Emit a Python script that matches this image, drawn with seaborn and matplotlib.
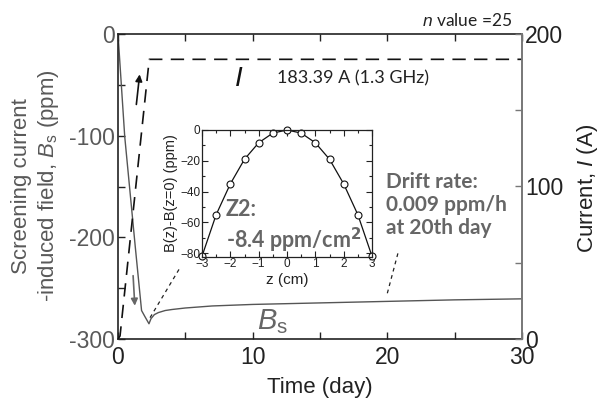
import numpy as np
import pandas as pd
import matplotlib
matplotlib.use("Agg")
import matplotlib.pyplot as plt
from matplotlib.ticker import MultipleLocator, FixedLocator
import seaborn as sns

# ---------------- data ----------------
bs_day = [0, 0.5, 1.28, 1.75, 2.0, 2.3, 2.45, 2.7, 3.0, 3.5, 4, 5, 7, 10, 15, 20, 25, 30]
bs_ppm = [0, -101, -209, -272, -278, -285, -280, -276, -274, -272, -271, -269.5, -267.5, -266, -264.5, -263, -261.5, -260.5]

cur_day = [0, 0.15, 2.32, 30]
cur_amp = [0, 2, 183.39, 183.39]

z_cm = [-3, -2.5, -2, -1.5, -1, -0.5, 0, 0.5, 1, 1.5, 2, 2.5, 3]
dB_ppm = [-82, -55, -35, -19, -8.3, -2, 0, -2, -8.3, -19, -35, -55, -82]

x_ticks = [0, 5, 10, 15, 20, 25, 30]
x_ticklabels = ["0", "", "10", "", "20", "", "30"]
yl_ticks = [-300, -250, -200, -150, -100, -50, 0]
yl_ticklabels = ["-300", "", "-200", "", "-100", "", "0"]
yr_ticks = [0, 50, 100, 150, 200]
yr_ticklabels = ["0", "", "100", "", "200"]

df_bs = pd.DataFrame({"day": bs_day, "ppm": bs_ppm})
df_cur = pd.DataFrame({"day": cur_day, "amp": cur_amp})
df_z = pd.DataFrame({"z": z_cm, "dB": dB_ppm})

# ---------------- style ----------------
sns.set_style("white")
plt.rcParams["font.family"] = ["Liberation Sans", "DejaVu Sans"]
plt.rcParams["mathtext.fontset"] = "custom"
plt.rcParams["mathtext.rm"] = "Liberation Sans"
plt.rcParams["mathtext.it"] = "Liberation Sans:italic"

GRAY = "#595959"
W, H = 607, 398
fig = plt.figure(figsize=(W / 100, H / 100), dpi=100)

def fx(px):
    return px / W

def fy(py):
    return 1 - py / H

ax = fig.add_axes([fx(118), fy(339), fx(522) - fx(118), fy(34) - fy(339)])
ax2 = ax.twinx()

# current (dashed, right axis)
sns.lineplot(data=df_cur, x="day", y="amp", ax=ax2, color="#111111", lw=1.2,
             linestyle=(0, (8, 5)), estimator=None, sort=False)
# screening field (solid, left axis)
sns.lineplot(data=df_bs, x="day", y="ppm", ax=ax, color="#555555", lw=1.0,
             estimator=None, sort=False)

ax.set_xlim(0, 30)
ax.set_ylim(-300, 0)
ax2.set_ylim(0, 200)

ax.set_xticks(x_ticks)
ax.set_xticklabels(x_ticklabels)
ax.set_yticks(yl_ticks)
ax.set_yticklabels(yl_ticklabels)
ax2.set_yticks(yr_ticks)
ax2.set_yticklabels(yr_ticklabels)

ax.tick_params(axis="x", direction="in", length=5, width=1, top=True, bottom=True,
               labelsize=16.5, pad=5, colors="#222222")
ax.tick_params(axis="y", direction="in", length=5, width=1, left=True,
               labelsize=16.5, pad=2, colors="#222222", labelcolor=GRAY)
ax2.tick_params(axis="y", direction="in", length=5, width=1, right=True,
                labelsize=16.5, pad=2, colors="#777777", labelcolor="#222222")

for s in ["left", "top", "bottom"]:
    ax.spines[s].set_color("#222222")
    ax.spines[s].set_linewidth(1.2)
for s in ["left", "top", "bottom"]:
    ax2.spines[s].set_visible(False)
ax2.spines["right"].set_color("#777777")
ax2.spines["right"].set_linewidth(1.4)
ax.spines["right"].set_visible(False)

ax.set_xlabel("")
ax.set_ylabel("")
ax2.set_ylabel("")
fig.text(fx(320), fy(387), "Time (day)", ha="center", va="center", fontsize=16,
         color="#222222")
fig.text(fx(22), fy(186), "Screening current", rotation=90, ha="center", va="center",
         fontsize=16, color=GRAY)
fig.text(fx(49), fy(186), "-induced field, $\\mathit{B}_\\mathrm{s}$ (ppm)", rotation=90,
         ha="center", va="center", fontsize=16, color=GRAY)
fig.text(fx(588), fy(188), "Current, $\\mathit{I}$ (A)", rotation=90, ha="center",
         va="center", fontsize=16, color="#222222")

# arrows
ax.annotate("", xy=(1.63, -37), xytext=(1.34, -72),
            arrowprops=dict(arrowstyle="-|>", color="#111111", lw=1.2, mutation_scale=10))
ax.annotate("", xy=(1.26, -270), xytext=(1.11, -235),
            arrowprops=dict(arrowstyle="-|>", color="#666666", lw=1.2, mutation_scale=10))

# pointer dashed lines
ax.plot([2.38, 4.6], [-279, -230], color="#222222", lw=0.9, linestyle=(0, (3, 3)))
ax.plot([20.0, 20.8], [-255, -215], color="#222222", lw=0.9, linestyle=(0, (3, 3)))

# annotations
CAL = ["Lato", "DejaVu Sans"]
fig.text(fx(512), fy(20), "$\\mathit{n}$ value =25", ha="right", va="center",
         fontsize=12.5, color="#222222", family=CAL)
fig.text(fx(239), fy(79), "$\\mathit{I}$", ha="center", va="center", fontsize=20,
         color="#111111")
fig.text(fx(277), fy(78), "183.39 A (1.3 GHz)", ha="left", va="center",
         fontsize=13, color="#222222", family=CAL)
fig.text(fx(386), fy(205), "Drift rate:\n0.009 ppm/h\nat 20th day", ha="left",
         va="center", fontsize=15, color="#666666", family=CAL, weight="bold",
         linespacing=1.2)
fig.text(fx(272), fy(322), "$\\mathit{B}_\\mathrm{s}$", ha="center", va="center",
         fontsize=21, color="#666666")

# ---------------- inset ----------------
axi = fig.add_axes([fx(202), fy(257), fx(372) - fx(202), fy(130) - fy(257)])
sns.lineplot(data=df_z, x="z", y="dB", ax=axi, color="#111111", lw=0.9,
             marker="o", markersize=5, markerfacecolor="white",
             markeredgecolor="#111111", markeredgewidth=0.8, estimator=None,
             sort=False, clip_on=False)
axi.set_xlim(-3, 3)
axi.set_ylim(-82.5, 0)
axi.xaxis.set_major_locator(FixedLocator([-3, -2, -1, 0, 1, 2, 3]))
axi.xaxis.set_minor_locator(MultipleLocator(0.5))
axi.yaxis.set_major_locator(FixedLocator([0, -20, -40, -60, -80]))
axi.yaxis.set_minor_locator(MultipleLocator(10))
axi.tick_params(which="both", direction="in", top=True, right=True, bottom=True,
                left=True, colors="#222222", labelsize=8.5, pad=1)
axi.tick_params(which="major", length=4, width=0.8)
axi.tick_params(which="minor", length=2.5, width=0.8)
for s in axi.spines.values():
    s.set_color("#222222")
    s.set_linewidth(0.9)
axi.set_xlabel("z (cm)", fontsize=11, color="#222222", labelpad=2)
axi.set_ylabel("B(z)-B(z=0) (ppm)", fontsize=10.5, color="#222222", labelpad=2)
axi.patch.set_alpha(0)

fig.text(fx(226), fy(210), "Z2:", ha="left", va="center", fontsize=15.5,
         color="#666666", family=CAL, weight="bold")
fig.text(fx(226), fy(240), "-8.4 ppm/cm$^\\mathbf{2}$", ha="left", va="center",
         fontsize=15.5, color="#666666", family=CAL, weight="bold")

fig.savefig("out.png", dpi=100)
